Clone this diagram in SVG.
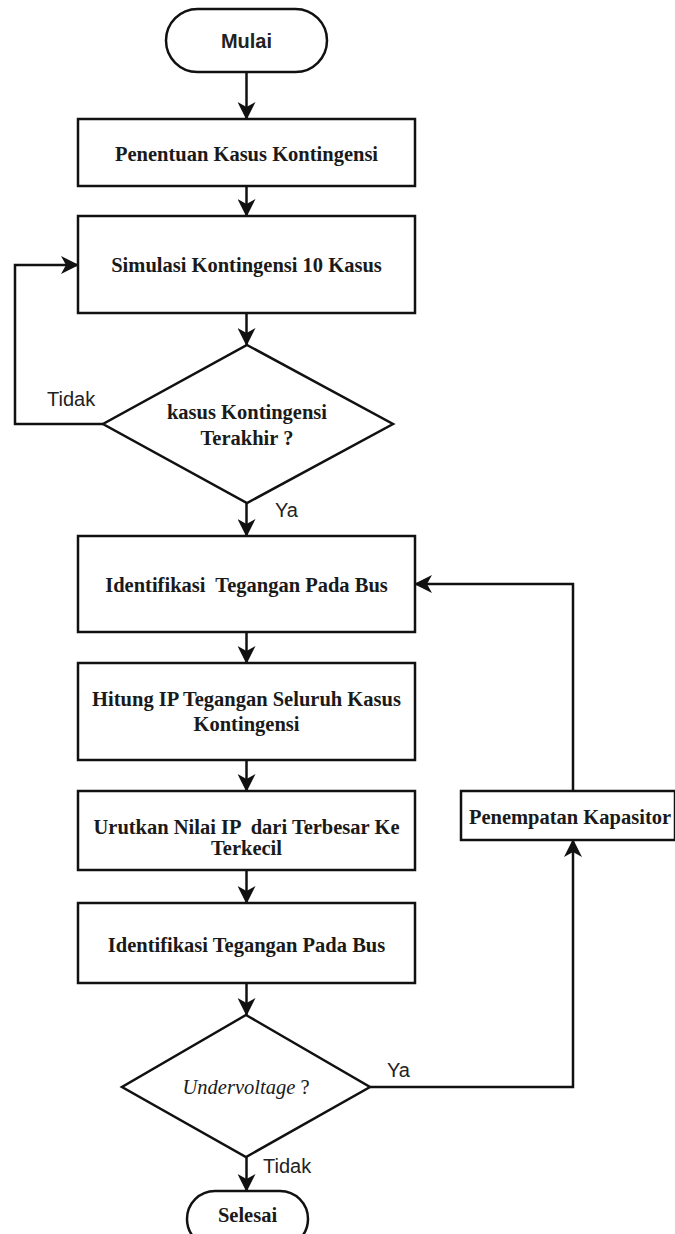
<svg xmlns="http://www.w3.org/2000/svg" width="675" height="1234" viewBox="0 0 675 1234">
<defs>
<marker id="arr" markerUnits="userSpaceOnUse" markerWidth="18" markerHeight="18" viewBox="0 0 18 18" refX="17" refY="9" orient="auto">
<path d="M0,0 L18,9 L0,18 L5,9 z" fill="#111"/>
</marker>
<style>
.shape{fill:#fff;stroke:#111;stroke-width:2.5}
.edge{fill:none;stroke:#111;stroke-width:2.5;marker-end:url(#arr)}
.t{font-family:"Liberation Serif","Times New Roman",serif;font-weight:bold;font-size:20.5px;fill:#1a1a1a;text-anchor:middle}
.ti{font-family:"Liberation Serif","Times New Roman",serif;font-style:italic;font-size:20.5px;fill:#1a1a1a;text-anchor:middle}
.s{font-family:"Liberation Sans",Arial,sans-serif;font-size:20px;fill:#222}
</style>
</defs>
<rect width="675" height="1234" fill="#fff"/>
<g id="edges">
<path class="edge" d="M246.5,72 V119"/>
<path class="edge" d="M246.5,186 V216"/>
<path class="edge" d="M246.5,313 V345"/>
<path class="edge" d="M103,424 H15 V265 H78"/>
<path class="edge" d="M246.5,503 V536"/>
<path class="edge" d="M246.5,632 V663"/>
<path class="edge" d="M246.5,760 V791"/>
<path class="edge" d="M246.5,870 V903"/>
<path class="edge" d="M246.5,983 V1015"/>
<path class="edge" d="M370,1087 H573 V840"/>
<path class="edge" d="M573,791 V584 H415"/>
<path class="edge" d="M246.5,1157 V1191"/>
<text class="s" x="47" y="406">Tidak</text>
<text class="s" x="275" y="517">Ya</text>
<text class="s" x="387" y="1077">Ya</text>
<text class="s" x="263" y="1173">Tidak</text>
</g>
<g id="mulai">
<rect class="shape" x="166" y="9" width="161" height="63" rx="31.5"/>
<text class="s" x="246.5" y="48" text-anchor="middle" font-weight="bold">Mulai</text>
</g>
<g id="penentuan">
<rect class="shape" x="78" y="119" width="337" height="67"/>
<text class="t" x="246.5" y="161">Penentuan Kasus Kontingensi</text>
</g>
<g id="simulasi">
<rect class="shape" x="78" y="216" width="337" height="97"/>
<text class="t" x="246.5" y="272">Simulasi Kontingensi 10 Kasus</text>
</g>
<g id="cek-kasus">
<polygon class="shape" points="247,345 393,424 247,503 103,424"/>
<text class="t" x="247" y="419">kasus Kontingensi</text>
<text class="t" x="247" y="445">Terakhir ?</text>
</g>
<g id="identifikasi1">
<rect class="shape" x="78" y="536" width="337" height="96"/>
<text class="t" x="246.5" y="592" xml:space="preserve">Identifikasi  Tegangan Pada Bus</text>
</g>
<g id="hitung-ip">
<rect class="shape" x="78" y="663" width="337" height="97"/>
<text class="t" x="246.5" y="706">Hitung IP Tegangan Seluruh Kasus</text>
<text class="t" x="246.5" y="731">Kontingensi</text>
</g>
<g id="urutkan">
<rect class="shape" x="78" y="791" width="337" height="79"/>
<text class="t" x="246.5" y="834" xml:space="preserve">Urutkan Nilai IP  dari Terbesar Ke</text>
<text class="t" x="246.5" y="855">Terkecil</text>
</g>
<g id="identifikasi2">
<rect class="shape" x="78" y="903" width="337" height="80"/>
<text class="t" x="246.5" y="952">Identifikasi Tegangan Pada Bus</text>
</g>
<g id="undervoltage">
<polygon class="shape" points="246,1015 370,1087 246,1157 122,1087"/>
<text class="ti" x="246" y="1094">Undervoltage <tspan font-style="normal">?</tspan></text>
</g>
<g id="kapasitor">
<rect class="shape" x="461" y="791" width="214" height="49"/>
<text class="t" x="570" y="824">Penempatan Kapasitor</text>
</g>
<g id="selesai">
<rect class="shape" x="187" y="1191" width="121" height="56" rx="28"/>
<text class="t" x="247.5" y="1222">Selesai</text>
</g>
</svg>
